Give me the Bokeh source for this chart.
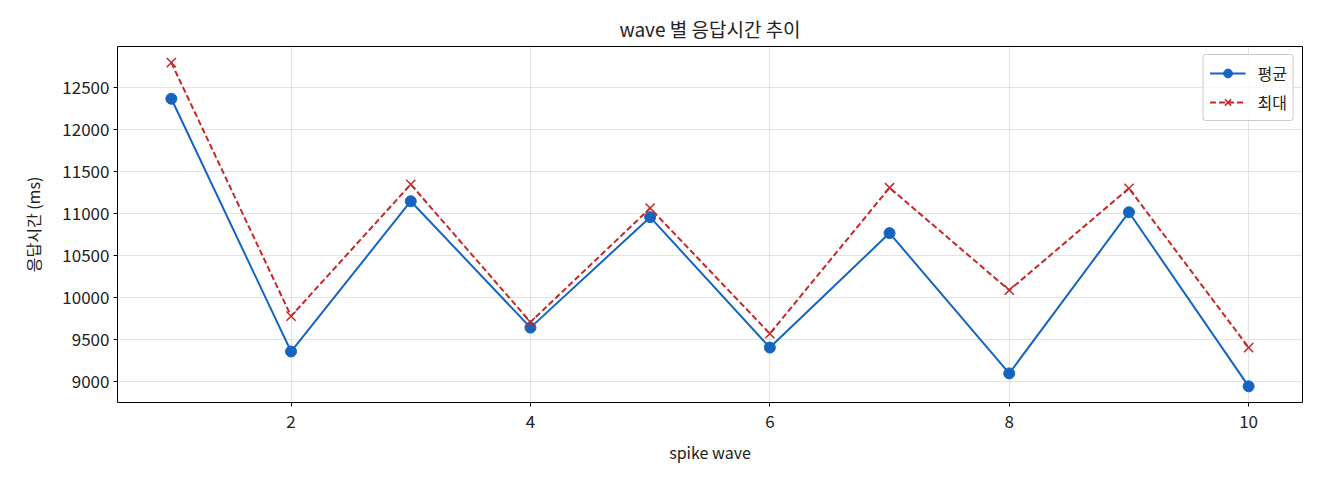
from bokeh.plotting import figure
from bokeh.models import ColumnDataSource, FixedTicker, Legend, LegendItem, Range1d
from bokeh.embed import file_html
from bokeh.resources import INLINE

FONT = "Noto Sans CJK KR"

# data
waves = [1, 2, 3, 4, 5, 6, 7, 8, 9, 10]
avg_ms = [12370, 9356, 11148, 9641, 10958, 9403, 10768, 9095, 11017, 8941]
max_ms = [12800, 9778, 11349, 9707, 11065, 9569, 11309, 10087, 11302, 9403]
x_ticks = [2, 4, 6, 8, 10]
y_ticks = [9000, 9500, 10000, 10500, 11000, 11500, 12000, 12500]

source = ColumnDataSource(data=dict(wave=waves, avg=avg_ms, mx=max_ms))

p = figure(width=1312, height=472, output_backend="svg", toolbar_location=None,
           x_range=Range1d(0.55, 10.45), y_range=Range1d(8748, 12993),
           min_border_left=117, min_border_right=10, min_border_top=46, min_border_bottom=70)

p.title.text = "wave 별 응답시간 추이"
p.title.align = "center"
p.title.text_font = FONT
p.title.text_font_size = "19px"
p.title.text_font_style = "normal"
p.title.text_color = "#222222"
p.title.standoff = 9

p.outline_line_color = "black"
p.outline_line_width = 1
p.outline_line_alpha = 1

for ax in (p.xaxis, p.yaxis):
    ax.axis_label_text_font = FONT
    ax.axis_label_text_font_size = "16px"
    ax.axis_label_text_font_style = "normal"
    ax.axis_label_text_color = "#222222"
    ax.major_label_text_font = FONT
    ax.major_label_text_font_size = "17px"
    ax.major_label_text_color = "#222222"
    ax.axis_line_color = None
    ax.minor_tick_line_color = None
    ax.major_tick_line_color = "black"
    ax.major_tick_out = 4
    ax.major_tick_in = 0

p.xaxis.major_label_standoff = 8
p.xaxis.axis_label_standoff = 9
p.yaxis.major_label_standoff = 4
p.yaxis.axis_label_standoff = 14

p.xaxis.axis_label = "spike wave"
p.yaxis.axis_label = "응답시간 (ms)"
p.xaxis.ticker = FixedTicker(ticks=x_ticks)
p.yaxis.ticker = FixedTicker(ticks=y_ticks)
p.yaxis.major_label_orientation = "horizontal"

p.grid.grid_line_color = "#b0b0b0"
p.grid.grid_line_alpha = 0.35
p.grid.grid_line_width = 1

blue = "#1565C0"
red = "#C62828"

l1 = p.line("wave", "avg", source=source, line_color=blue, line_width=2)
m1 = p.scatter("wave", "avg", source=source, marker="circle", size=11,
               fill_color=blue, line_color=blue)
l2 = p.line("wave", "mx", source=source, line_color=red, line_width=2, line_dash="6 3")
m2 = p.scatter("wave", "mx", source=source, marker="x", size=13,
               line_color=red, line_width=1.5)

legend = Legend(items=[LegendItem(label="평균", renderers=[l1, m1]),
                       LegendItem(label="최대", renderers=[l2, m2])],
                location="top_right")
legend.label_text_font = FONT
legend.label_text_font_size = "16px"
legend.label_text_color = "#222222"
legend.label_standoff = 12
legend.border_line_color = "#cccccc"
legend.border_line_alpha = 1
legend.border_radius = 3
legend.background_fill_alpha = 0.8
legend.glyph_width = 36
legend.glyph_height = 22
legend.spacing = 5
legend.padding = 6
legend.margin = 8
p.add_layout(legend)

open("out.html", "w").write(file_html(p, INLINE))
